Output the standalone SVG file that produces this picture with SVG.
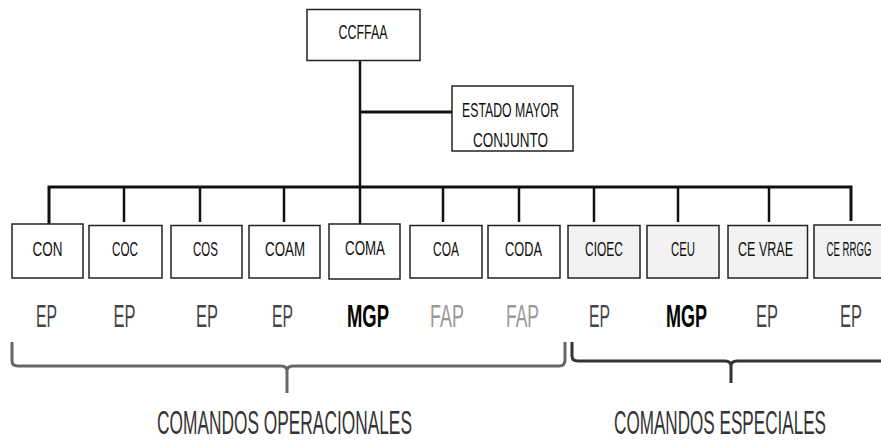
<svg xmlns="http://www.w3.org/2000/svg" width="881" height="441" viewBox="0 0 881 441">
<style>
.box{fill:#fff;stroke:#222;stroke-width:1.5}
.sp{fill:#f2f2f2}
text{font-family:"Liberation Sans",Arial,sans-serif;text-anchor:middle}
.t{font-size:20px;fill:#111}
.b{font-size:31px}
.g{font-size:34px;fill:#333}
.ep{fill:#444}
.mgp{fill:#000;font-weight:bold}
.fap{fill:#999}
.ln{stroke:#111;stroke-width:2.5;fill:none}
.br1{stroke:#666;stroke-width:3;fill:none}
.br2{stroke:#333;stroke-width:3;fill:none}
</style>
<rect width="881" height="441" fill="#fff"/>
<g id="connectors">
<line class="ln" x1="360" y1="61" x2="360" y2="224"/>
<line class="ln" x1="360" y1="112" x2="452" y2="112" style="stroke-width:3"/>
<path class="ln" d="M49 224 V187 H851 V221" style="stroke-width:3"/>
<line class="ln" x1="124" y1="187" x2="124" y2="222"/>
<line class="ln" x1="200" y1="187" x2="200" y2="222"/>
<line class="ln" x1="284" y1="187" x2="284" y2="222"/>
<line class="ln" x1="443" y1="187" x2="443" y2="222"/>
<line class="ln" x1="519" y1="187" x2="519" y2="222"/>
<line class="ln" x1="594" y1="187" x2="594" y2="222"/>
<line class="ln" x1="678" y1="187" x2="678" y2="222"/>
<line class="ln" x1="769" y1="187" x2="769" y2="222"/>
</g>
<g id="CCFFAA"><rect class="box" x="307" y="9.5" width="113" height="51"/><text class="t" transform="translate(363 39) scale(0.6125 1)" textLength="80" lengthAdjust="spacingAndGlyphs">CCFFAA</text></g>
<g id="EMC"><rect class="box" x="452" y="86" width="121" height="65"/><text class="t" transform="translate(510.5 117) scale(0.602 1)" textLength="161" lengthAdjust="spacingAndGlyphs">ESTADO MAYOR</text><text class="t" transform="translate(510.5 147) scale(0.675 1)" textLength="111" lengthAdjust="spacingAndGlyphs">CONJUNTO</text></g>
<g id="CON"><rect class="box" x="12" y="224" width="71" height="54"/><text class="t" transform="translate(47.5 256) scale(0.675 1)" textLength="44.4" lengthAdjust="spacingAndGlyphs">CON</text></g>
<g id="COC"><rect class="box" x="89" y="225.5" width="73" height="52.5"/><text class="t" transform="translate(125 256) scale(0.585 1)" textLength="44.4" lengthAdjust="spacingAndGlyphs">COC</text></g>
<g id="COS"><rect class="box" x="171" y="225.5" width="71" height="52.5"/><text class="t" transform="translate(205.5 256) scale(0.577 1)" textLength="43.3" lengthAdjust="spacingAndGlyphs">COS</text></g>
<g id="COAM"><rect class="box" x="249" y="225.5" width="71" height="52.5"/><text class="t" transform="translate(285 256) scale(0.667 1)" textLength="60" lengthAdjust="spacingAndGlyphs">COAM</text></g>
<g id="COMA"><rect class="box" x="329" y="224" width="71" height="55"/><text class="t" transform="translate(365 255) scale(0.667 1)" textLength="60" lengthAdjust="spacingAndGlyphs">COMA</text></g>
<g id="COA"><rect class="box" x="410" y="225.5" width="72" height="52.5"/><text class="t" transform="translate(446 256) scale(0.6 1)" textLength="43.3" lengthAdjust="spacingAndGlyphs">COA</text></g>
<g id="CODA"><rect class="box" x="488" y="225.5" width="72" height="52.5"/><text class="t" transform="translate(523.5 256) scale(0.64 1)" textLength="57.8" lengthAdjust="spacingAndGlyphs">CODA</text></g>
<g id="CIOEC"><rect class="box sp" x="568" y="225.5" width="72" height="52.5"/><text class="t" transform="translate(604 256) scale(0.6 1)" textLength="63.3" lengthAdjust="spacingAndGlyphs">CIOEC</text></g>
<g id="CEU"><rect class="box sp" x="647" y="225.5" width="72" height="52.5"/><text class="t" transform="translate(683 256) scale(0.569 1)" textLength="42.2" lengthAdjust="spacingAndGlyphs">CEU</text></g>
<g id="CEVRAE"><rect class="box sp" x="728" y="225.5" width="79.5" height="52.5"/><text class="t" transform="translate(765.5 256) scale(0.626 1)" textLength="87.8" lengthAdjust="spacingAndGlyphs">CE VRAE</text></g>
<g id="CERRGG"><rect class="box sp" x="814" y="225" width="80" height="53"/><text class="t" transform="translate(849 256) scale(0.48 1)" textLength="93.3" lengthAdjust="spacingAndGlyphs">CE RRGG</text></g>
<g id="labels">
<text class="b ep" transform="translate(46.5 327) scale(0.507 1)" textLength="41.4" lengthAdjust="spacingAndGlyphs">EP</text>
<text class="b ep" transform="translate(124.5 327) scale(0.53 1)" textLength="41.4" lengthAdjust="spacingAndGlyphs">EP</text>
<text class="b ep" transform="translate(207 327) scale(0.53 1)" textLength="41.4" lengthAdjust="spacingAndGlyphs">EP</text>
<text class="b ep" transform="translate(282.5 327) scale(0.507 1)" textLength="41.4" lengthAdjust="spacingAndGlyphs">EP</text>
<text class="b mgp" transform="translate(368 327) scale(0.595 1)" textLength="70.6" lengthAdjust="spacingAndGlyphs">MGP</text>
<text class="b fap" transform="translate(447 327) scale(0.564 1)" textLength="60.3" lengthAdjust="spacingAndGlyphs">FAP</text>
<text class="b fap" transform="translate(522.5 327) scale(0.547 1)" textLength="60.3" lengthAdjust="spacingAndGlyphs">FAP</text>
<text class="b ep" transform="translate(599.5 327) scale(0.507 1)" textLength="41.4" lengthAdjust="spacingAndGlyphs">EP</text>
<text class="b mgp" transform="translate(686.5 327) scale(0.581 1)" textLength="70.6" lengthAdjust="spacingAndGlyphs">MGP</text>
<text class="b ep" transform="translate(767 327) scale(0.53 1)" textLength="41.4" lengthAdjust="spacingAndGlyphs">EP</text>
<text class="b ep" transform="translate(851 327) scale(0.53 1)" textLength="41.4" lengthAdjust="spacingAndGlyphs">EP</text>
</g>
<g id="brackets">
<path class="br1" d="M12 342 V361 Q12 366 18 366 H281 Q287 366 287 371 V393 M287 371 Q287 366 293 366 H559 Q565 366 565 360 V342"/>
<path class="br2" d="M572 342 V356 Q572 361 578 361 H725 Q731 361 731 366 V383 M731 366 Q731 361 737 361 H884"/>
</g>
<g id="groups">
<text class="g" transform="translate(284.5 434) scale(0.509 1)" textLength="500.7" lengthAdjust="spacingAndGlyphs">COMANDOS OPERACIONALES</text>
<text class="g" transform="translate(720 434) scale(0.503 1)" textLength="421.3" lengthAdjust="spacingAndGlyphs">COMANDOS ESPECIALES</text>
</g>
</svg>
